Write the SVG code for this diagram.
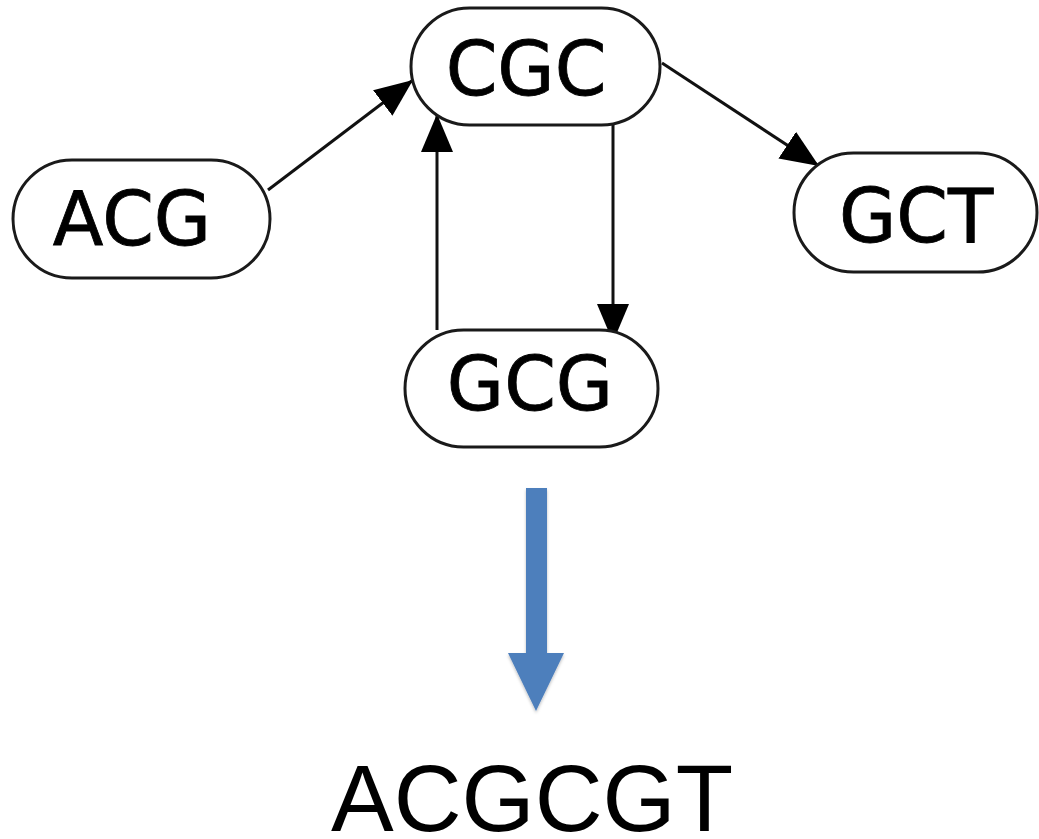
<svg xmlns="http://www.w3.org/2000/svg" width="1039" height="839" viewBox="0 0 1039 839">
<style>
.node rect{fill:#fff;stroke:#1a1a1a;stroke-width:3}
.node text{font-family:"DejaVu Sans",Verdana,sans-serif;font-size:74px;fill:#000;stroke:#000;stroke-width:0.8;text-anchor:middle}
.edge{stroke:#111;stroke-width:3;fill:none}
</style>
<defs>
<marker id="ah" viewBox="0 0 38 32" refX="38" refY="16" markerWidth="38" markerHeight="32" markerUnits="userSpaceOnUse" orient="auto">
<path d="M0,0 L38,16 L0,32 Z" fill="#000"/>
</marker>
<filter id="sh" x="-50%" y="-10%" width="200%" height="130%">
<feDropShadow dx="0" dy="2" stdDeviation="1.5" flood-color="#000" flood-opacity="0.25"/>
</filter>
</defs>
<rect width="1039" height="839" fill="#fff"/>
<g id="connectors">
<line class="edge" x1="268" y1="190" x2="413" y2="80" marker-end="url(#ah)"/>
<line class="edge" x1="662" y1="63" x2="819" y2="166" marker-end="url(#ah)"/>
<line class="edge" x1="613" y1="125" x2="613" y2="342" marker-end="url(#ah)"/>
<line class="edge" x1="437" y1="330" x2="437" y2="114" marker-end="url(#ah)"/>
</g>
<g id="node-ACG" class="node"><rect x="13" y="160" width="257" height="118" rx="59"/><text x="132" y="245">ACG</text></g>
<g id="node-CGC" class="node"><rect x="411" y="8" width="249" height="117" rx="58.5"/><text x="526" y="95">CGC</text></g>
<g id="node-GCT" class="node"><rect x="794" y="153" width="243" height="119" rx="59.5"/><text x="916" y="242">GCT</text></g>
<g id="node-GCG" class="node"><rect x="405" y="330" width="253" height="117" rx="58.5"/><text x="530" y="410">GCG</text></g>
<g id="result-arrow" filter="url(#sh)">
<path d="M526,488 L547,488 L547,653 L564,653 L536,711 L508,653 L526,653 Z" fill="#4e7fbc"/>
</g>
<text x="532" y="831" font-family="'Liberation Sans',Arial,Helvetica,sans-serif" font-size="94" text-anchor="middle" fill="#000">ACGCGT</text>
</svg>
